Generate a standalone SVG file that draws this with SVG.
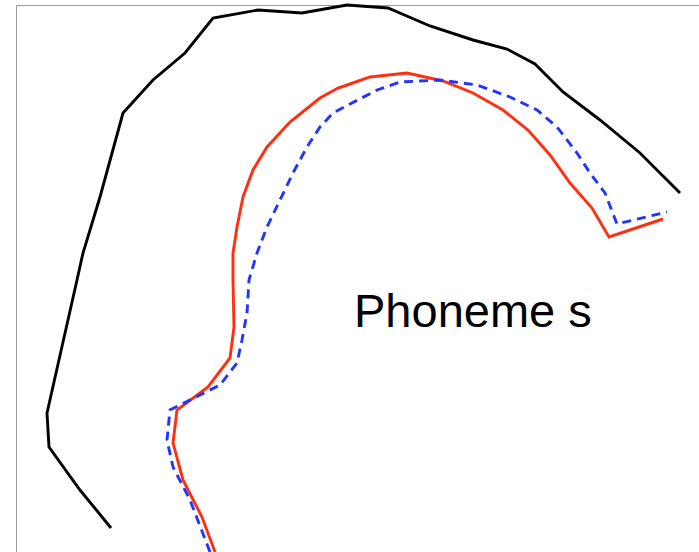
<svg xmlns="http://www.w3.org/2000/svg" width="699" height="552" viewBox="0 0 699 552">
<style>
.frame{fill:none;stroke:#999;stroke-width:1}
.c{fill:none;stroke-width:2.9;stroke-linejoin:miter;stroke-linecap:butt}
.black{stroke:#000}
.red{stroke:#ff2f10}
.blue{stroke:#2035ff;stroke-dasharray:9,6}
.lbl{font-family:"Liberation Sans",Arial,sans-serif;font-size:47px;fill:#000}
</style>
<rect width="699" height="552" fill="#fff"/>
<path class="frame" d="M16.5,552 V5.5 H699"/>
<g id="curves">
<polyline id="outer" class="c black" points="111,528 80,490 49,447 47,413 77,280 83,253 100,197 123,113 153,80 185,53 213,18 258,10 302,13 347,5 388,8 430,26 473,40 507,49 535,64 563,92 600,120 640,153 680,193"/>
<polyline id="red" class="c red" points="215,552 202,517 183,480 173,443 177,410 208,387 230,358 234,327 233,280 233,253 237,227 243,197 253,170 267,147 290,122 320,98 338,88 350,84 370,77 407,73 443,81 473,93 503,110 528,130 550,155 570,183 592,208 609,237 663,219"/>
<polyline id="blue" class="c blue" points="210,552 190,500 173,467 167,440 170,410 200,395 220,385 237,363 242,340 247,313 249,280 257,253 267,227 280,200 293,173 307,147 320,127 333,113 350,104 377,90 400,82 440,80 477,85 510,97 537,110 557,127 577,153 590,173 605,193 617,224 667,212"/>
</g>
<text class="lbl" x="354" y="327">Phoneme s</text>
</svg>
